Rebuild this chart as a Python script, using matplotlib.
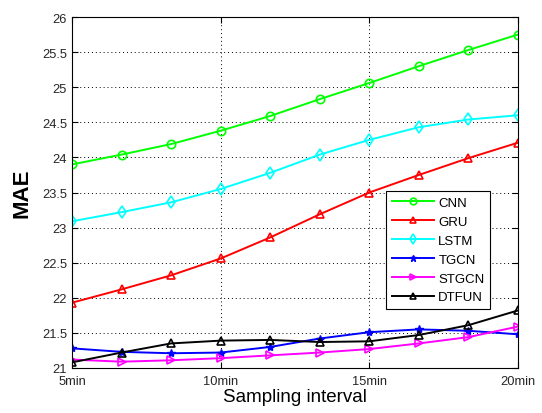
import numpy as np
import matplotlib
matplotlib.use("Agg")
import matplotlib.pyplot as plt

plt.rcParams['font.family'] = ['Liberation Sans', 'DejaVu Sans']

# sampling interval in minutes (10 points from 5 to 20 min)
interval = [5, 6.667, 8.333, 10, 11.667, 13.333, 15, 16.667, 18.333, 20]

cnn = [23.90, 24.04, 24.19, 24.38, 24.59, 24.83, 25.06, 25.30, 25.53, 25.75]
gru = [21.93, 22.12, 22.32, 22.56, 22.86, 23.19, 23.50, 23.75, 23.99, 24.21]
lstm = [23.09, 23.22, 23.36, 23.55, 23.78, 24.04, 24.25, 24.43, 24.54, 24.60]
tgcn = [21.28, 21.23, 21.21, 21.22, 21.30, 21.42, 21.51, 21.55, 21.53, 21.48]
stgcn = [21.12, 21.09, 21.11, 21.14, 21.18, 21.22, 21.27, 21.35, 21.44, 21.59]
dtfun = [21.08, 21.22, 21.35, 21.39, 21.40, 21.37, 21.38, 21.47, 21.61, 21.82]

xticks = [5, 10, 15, 20]
xticklabels = ["5min", "10min", "15min", "20min"]
yticks = [21, 21.5, 22, 22.5, 23, 23.5, 24, 24.5, 25, 25.5, 26]
yticklabels = ["21", "21.5", "22", "22.5", "23", "23.5", "24", "24.5", "25", "25.5", "26"]


def main():
    fig = plt.figure(figsize=(5.42, 4.14), dpi=100)
    ax = fig.add_axes([0.1328, 0.1087, 0.8229, 0.8478])

    mk = dict(markerfacecolor='none', markersize=6, markeredgewidth=1.2, linewidth=1.4)
    ax.plot(interval, cnn, color='#00ff00', marker='o', label='CNN', **mk)
    ax.plot(interval, gru, color='#ff0000', marker='^', label='GRU', **mk)
    ax.plot(interval, lstm, color='#00ffff', marker='d', label='LSTM', **mk)
    ax.plot(interval, tgcn, color='#0000ff', marker='*', label='TGCN',
            markerfacecolor='#0000ff', markersize=6, linewidth=1.4)
    ax.plot(interval, stgcn, color='#ff00ff', marker='>', label='STGCN', **mk)
    ax.plot(interval, dtfun, color='#000000', marker='^', label='DTFUN', **mk)

    ax.set_xlim(5, 20)
    ax.set_ylim(21, 26)
    ax.set_xticks(xticks)
    ax.set_xticklabels(xticklabels)
    ax.set_yticks(yticks)
    ax.set_yticklabels(yticklabels)
    ax.tick_params(direction='in', top=True, right=True, labelsize=9.3,
                   labelcolor='#262626', length=4)
    ax.tick_params(axis='x', pad=5)
    ax.grid(True, linestyle=(0, (1, 3)), color='black', linewidth=0.7)

    ax.set_xlabel("Sampling interval", fontsize=13.5, labelpad=1)
    ax.set_ylabel("MAE", fontsize=16, fontweight='bold', labelpad=7)

    leg = ax.legend(loc='lower left', bbox_to_anchor=(0.704, 0.168), borderaxespad=0,
                    fontsize=9.5, fancybox=False, framealpha=1, edgecolor='black',
                    handlelength=3.25, labelspacing=0.51, handletextpad=0.3,
                    markerscale=0.8, borderpad=0.42)
    leg.get_frame().set_linewidth(0.8)

    fig.savefig("out.png", dpi=100)


if __name__ == "__main__":
    main()
